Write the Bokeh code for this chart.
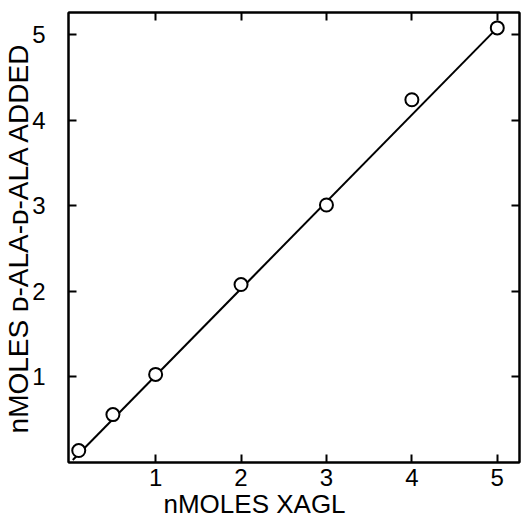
from bokeh.plotting import figure
from bokeh.models import LinearAxis, FixedTicker, Range1d, Title
from bokeh.embed import file_html
from bokeh.resources import INLINE

# data
x_vals = [0.1, 0.5, 1.0, 2.0, 3.0, 4.0, 5.0]
y_vals = [0.14, 0.56, 1.03, 2.08, 3.01, 4.24, 5.08]
fit_x = [0.03, 5.0]
fit_y = [0.03, 5.08]
ticks = [1, 2, 3, 4, 5]
x_title = "nMOLES XAGL"
y_title = "nMOLES \u1d05-ALA-\u1d05-ALA ADDED"

FONT = "Liberation Sans"

p = figure(width=521, height=518, output_backend="svg", toolbar_location=None,
           x_range=Range1d(-0.02, 5.26), y_range=Range1d(0.0, 5.26),
           x_axis_type=None, y_axis_type=None,
           min_border_left=68, min_border_right=2, min_border_top=12, min_border_bottom=56)
p.grid.visible = False
p.outline_line_color = "black"
p.outline_line_width = 2
p.background_fill_color = "white"
p.border_fill_color = "white"

def make_axis(labels=True):
    ax = LinearAxis(ticker=FixedTicker(ticks=ticks))
    ax.major_tick_in = 8
    ax.major_tick_out = 0
    ax.minor_tick_line_color = None
    ax.axis_line_width = 2
    ax.major_tick_line_width = 2
    ax.axis_line_color = "black"
    ax.major_tick_line_color = "black"
    ax.major_label_text_font = FONT
    if labels:
        ax.major_label_text_font_size = "24px"
        ax.major_label_text_color = "black"
    else:
        ax.major_label_text_font_size = "1px"
        ax.major_label_text_color = None
        ax.major_label_standoff = 0
    return ax

xb = make_axis()
xb.major_label_standoff = 6
p.add_layout(xb, "below")

yl = make_axis()
yl.major_label_standoff = 23
yl.major_label_orientation = "horizontal"
yl.axis_label = y_title
yl.axis_label_text_font = FONT
yl.axis_label_text_font_style = "normal"
yl.axis_label_text_font_size = "28px"
yl.axis_label_text_color = "black"
yl.axis_label_standoff = -5
p.add_layout(yl, "left")

p.add_layout(make_axis(False), "above")
p.add_layout(make_axis(False), "right")

p.add_layout(Title(text=x_title, align="left", offset=95, standoff=-4,
                   text_font=FONT, text_font_size="26px", text_font_style="normal",
                   text_color="black"), "below")

p.line(fit_x, fit_y, line_color="black", line_width=2)
p.scatter(x_vals, y_vals, size=13, marker="circle", fill_color="white",
          line_color="black", line_width=2)

open("out.html", "w").write(file_html(p, INLINE))
